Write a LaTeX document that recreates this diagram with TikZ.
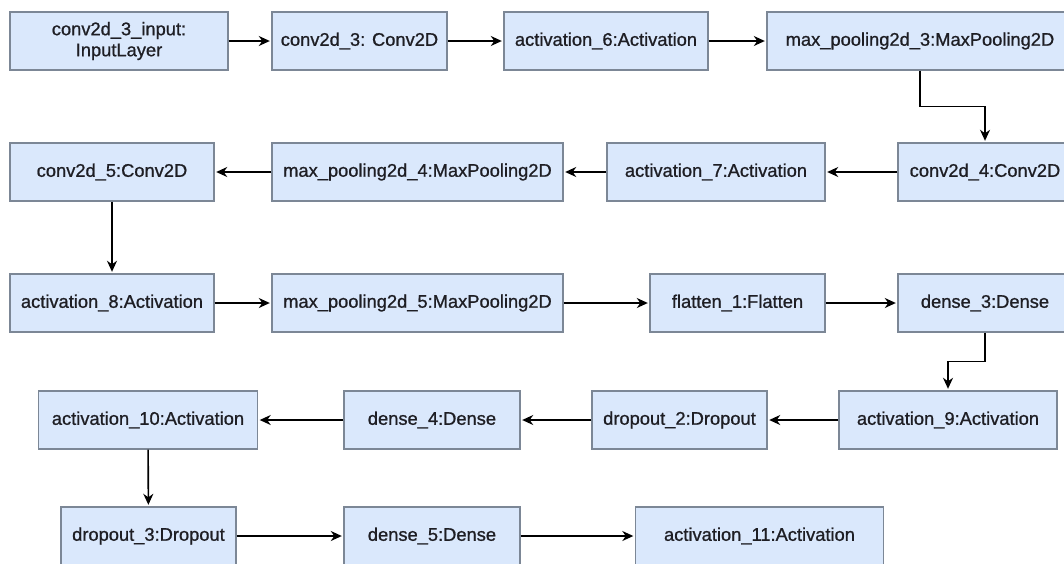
\documentclass[tikz,border=0pt]{standalone}
\usepackage{fontspec}
\setmainfont{Liberation Sans}
\newfontfamily\layerfont{Liberation Sans}[FakeBold=0.9]
\usetikzlibrary{arrows.meta,calc}
\definecolor{boxfill}{HTML}{DAE8FC}
\definecolor{boxline}{HTML}{7C8796}
\definecolor{txt}{HTML}{1E1E24}
\begin{document}
\begin{tikzpicture}[x=1pt,y=-1pt,
  layer/.style={draw=boxline, fill=boxfill, line width=1.4pt, minimum height=58pt,
    inner sep=0pt, align=center, text=txt, font=\layerfont\fontsize{18.3}{21}\selectfont},
  link/.style={line width=1.6pt, draw=black, shorten >=1.5pt, -{Stealth[length=11pt,width=10pt,inset=3.5pt]}},
]
\useasboundingbox (0,0) rectangle (1064,563);
\fill[white] (0,0) rectangle (1064,563);
\clip (0,0) rectangle (1064,563);
% row 1
\node[layer, minimum width=218pt] (in) at (119,41) {conv2d\_3\_input:\\InputLayer};
\node[layer, minimum width=175pt] (c3) at (359.5,41) {conv2d\_3: Conv2D};
\node[layer, minimum width=204pt] (a6) at (606,41) {activation\_6:Activation};
\node[layer, minimum width=306pt] (mp3) at (920,41) {max\_pooling2d\_3:MaxPooling2D};
% row 2
\node[layer, minimum width=204pt] (c5) at (112,172) {conv2d\_5:Conv2D};
\node[layer, minimum width=291pt] (mp4) at (417.5,172) {max\_pooling2d\_4:MaxPooling2D};
\node[layer, minimum width=218pt] (a7) at (716,172) {activation\_7:Activation};
\node[layer, minimum width=174pt] (c4) at (985,172) {conv2d\_4:Conv2D};
% row 3
\node[layer, minimum width=204pt] (a8) at (112,303) {activation\_8:Activation};
\node[layer, minimum width=291pt] (mp5) at (417.5,303) {max\_pooling2d\_5:MaxPooling2D};
\node[layer, minimum width=175pt] (fl) at (737.5,303) {flatten\_1:Flatten};
\node[layer, minimum width=174pt] (d3) at (985,303) {dense\_3:Dense};
% row 4
\node[layer, minimum width=219pt] (a10) at (148,420) {activation\_10:Activation};
\node[layer, minimum width=176pt] (d4) at (432,420) {dense\_4:Dense};
\node[layer, minimum width=175pt] (dr2) at (679.5,420) {dropout\_2:Dropout};
\node[layer, minimum width=218pt] (a9) at (948,420) {activation\_9:Activation};
% row 5
\node[layer, minimum width=175pt] (dr3) at (148.5,536) {dropout\_3:Dropout};
\node[layer, minimum width=176pt] (d5) at (432,536) {dense\_5:Dense};
\node[layer, minimum width=248pt] (a11) at (759.5,536) {activation\_11:Activation};
% connectors
\draw[link] (in) -- (c3);
\draw[link] (c3) -- (a6);
\draw[link] (a6) -- (mp3);
\draw[link] (mp3.south) |- ($(mp3.south)!0.5!(c4.north)$) -| (c4.north);
\draw[link] (c4) -- (a7);
\draw[link] (a7) -- (mp4);
\draw[link] (mp4) -- (c5);
\draw[link] (c5) -- (a8);
\draw[link] (a8) -- (mp5);
\draw[link] (mp5) -- (fl);
\draw[link] (fl) -- (d3);
\draw[link] (d3.south) |- ($(d3.south)!0.5!(a9.north)$) -| (a9.north);
\draw[link] (a9) -- (dr2);
\draw[link] (dr2) -- (d4);
\draw[link] (d4) -- (a10);
\draw[link] (a10) -- (dr3);
\draw[link] (dr3) -- (d5);
\draw[link] (d5) -- (a11);
\end{tikzpicture}
\end{document}
